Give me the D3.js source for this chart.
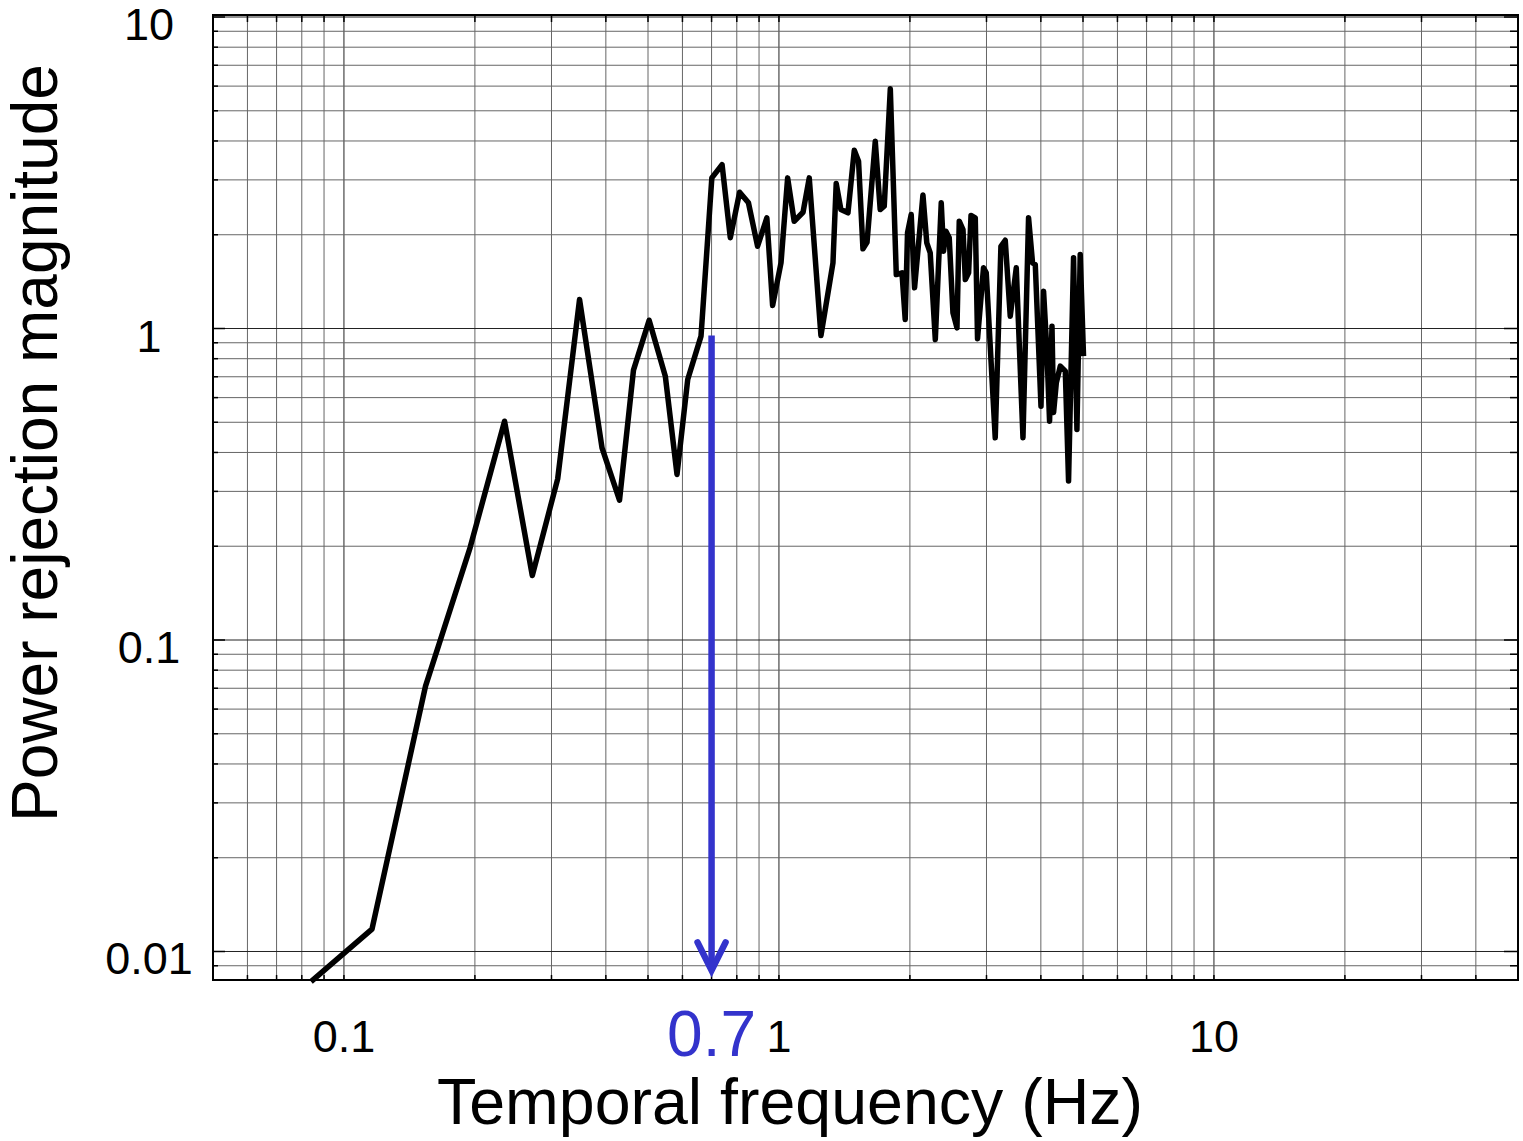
<!DOCTYPE html>
<html>
<head>
<meta charset="utf-8">
<script src="https://cdn.jsdelivr.net/npm/d3@7/dist/d3.min.js"></script>
<style>
  html, body { margin: 0; padding: 0; background: #fff; }
  svg { display: block; font-family: "Liberation Sans", Arial, sans-serif; }
</style>
</head>
<body>
<svg id="chart" width="1523" height="1141"></svg>
<script>
// Measured power rejection vs temporal frequency
const freqHz = [0.084, 0.116, 0.154, 0.195, 0.234, 0.271, 0.310, 0.348, 0.392, 0.430,
  0.463, 0.503, 0.548, 0.583, 0.617, 0.662, 0.701, 0.740, 0.773, 0.812,
  0.851, 0.893, 0.938, 0.967, 1.011, 1.047, 1.084, 1.136, 1.174, 1.249,
  1.331, 1.354, 1.388, 1.441, 1.490, 1.524, 1.560, 1.594, 1.665, 1.709,
  1.746, 1.803, 1.861, 1.918, 1.951, 1.975, 2.014, 2.050, 2.143, 2.187,
  2.227, 2.288, 2.361, 2.390, 2.420, 2.463, 2.512, 2.566, 2.597, 2.649,
  2.682, 2.729, 2.764, 2.827, 2.861, 2.953, 2.996, 3.142, 3.238, 3.313,
  3.402, 3.512, 3.639, 3.748, 3.828, 3.884, 4.003, 4.058, 4.132, 4.189,
  4.243, 4.279, 4.341, 4.434, 4.553, 4.632, 4.756, 4.842, 4.927, 5.014];
const rejection = [0.0080, 0.0118, 0.0711, 0.198, 0.504, 0.161, 0.329, 1.239, 0.414, 0.281,
  0.735, 1.063, 0.703, 0.340, 0.686, 0.945, 3.045, 3.36, 1.955, 2.738,
  2.532, 1.837, 2.266, 1.185, 1.625, 3.045, 2.21, 2.362, 3.045, 0.95,
  1.625, 2.92, 2.409, 2.351, 3.734, 3.443, 1.803, 1.892, 3.991, 2.409,
  2.469, 5.88, 1.49, 1.509, 1.069, 2.028, 2.322, 1.351, 2.682, 1.884,
  1.75, 0.922, 2.532, 1.771, 2.052, 1.955, 1.123, 1.005, 2.21, 2.078,
  1.436, 1.509, 2.305, 2.266, 0.927, 1.566, 1.509, 0.446, 1.837, 1.92,
  1.095, 1.566, 0.446, 2.266, 1.625, 1.605, 0.563, 1.317, 0.836, 0.504,
  1.017, 0.537, 0.669, 0.757, 0.729, 0.324, 1.686, 0.474, 1.728, 0.815];

// Axis extents and labels
const xDomain = [0.05, 50];
const yDomain = [0.0081, 10.15];
const xTickValues = [0.1, 1, 10];
const xTickLabels = ["0.1", "1", "10"];
const yTickValues = [10, 1, 0.1, 0.01];
const yTickLabels = ["10", "1", "0.1", "0.01"];

// Cut-off marker
const cutoffHz = 0.7;
const cutoffLabel = "0.7";
const arrowFrom = 0.95;
const arrowTo = 0.0087;

const xTitle = "Temporal frequency (Hz)";
const yTitle = "Power rejection magnitude";

const svg = d3.select("#chart");
const plotLeft = 213, plotRight = 1518, plotTop = 15, plotBottom = 980;

const x = d3.scaleLog().domain(xDomain).range([plotLeft, plotRight]);
const y = d3.scaleLog().domain(yDomain).range([plotBottom, plotTop]);

// 1-2-...-9 per decade grid values within a domain
function decadeValues(domain) {
  const out = [];
  for (let e = -3; e <= 2; e++) {
    for (let k = 1; k <= 9; k++) {
      const v = +(k * Math.pow(10, e)).toPrecision(6);
      if (v >= domain[0] * 0.9999 && v <= domain[1] * 1.0001) out.push({ v, major: k === 1 });
    }
  }
  return out;
}
const xGrid = decadeValues(xDomain);
const yGrid = decadeValues(yDomain);

const grid = svg.append("g").attr("class", "grid");
grid.selectAll("line.vx").data(xGrid).join("line")
  .attr("x1", d => x(d.v)).attr("x2", d => x(d.v))
  .attr("y1", plotTop).attr("y2", plotBottom)
  .attr("stroke", d => d.major ? "#222" : "#666")
  .attr("stroke-width", 1);
grid.selectAll("line.hy").data(yGrid).join("line")
  .attr("y1", d => y(d.v)).attr("y2", d => y(d.v))
  .attr("x1", plotLeft).attr("x2", plotRight)
  .attr("stroke", d => d.major ? "#222" : "#666")
  .attr("stroke-width", 1);

// Inner tick marks on all four sides
const ticks = svg.append("g").attr("stroke", "#000").attr("stroke-width", 1.5);
ticks.selectAll("line.tb").data(xGrid).join("line")
  .attr("x1", d => x(d.v)).attr("x2", d => x(d.v))
  .attr("y1", plotBottom).attr("y2", plotBottom - 5);
ticks.selectAll("line.tt").data(xGrid).join("line")
  .attr("x1", d => x(d.v)).attr("x2", d => x(d.v))
  .attr("y1", plotTop).attr("y2", plotTop + 7);
ticks.selectAll("line.tl").data(yGrid).join("line")
  .attr("y1", d => y(d.v)).attr("y2", d => y(d.v))
  .attr("x1", plotLeft).attr("x2", d => plotLeft + (d.major ? 12 : 5));
ticks.selectAll("line.tr").data(yGrid).join("line")
  .attr("y1", d => y(d.v)).attr("y2", d => y(d.v))
  .attr("x1", plotRight).attr("x2", d => plotRight - (d.major ? 14 : 8));

// Plot frame
svg.append("rect")
  .attr("x", plotLeft).attr("y", plotTop)
  .attr("width", plotRight - plotLeft).attr("height", plotBottom - plotTop)
  .attr("fill", "none").attr("stroke", "#000").attr("stroke-width", 2);

// Tick labels
svg.append("g").selectAll("text").data(xTickValues).join("text")
  .attr("x", d => x(d)).attr("y", 1052)
  .attr("text-anchor", "middle")
  .attr("font-size", 45).attr("fill", "#000")
  .text((d, i) => xTickLabels[i]);
svg.append("g").selectAll("text").data(yTickValues).join("text")
  .attr("x", 149).attr("y", d => y(d) + 23)
  .attr("text-anchor", "middle")
  .attr("font-size", 45).attr("fill", "#000")
  .text((d, i) => yTickLabels[i]);

// Axis titles
svg.append("text")
  .attr("x", 790).attr("y", 1124)
  .attr("text-anchor", "middle").attr("font-size", 64.5).attr("fill", "#000")
  .text(xTitle);
svg.append("text")
  .attr("transform", "translate(57,443) rotate(-90)")
  .attr("text-anchor", "middle").attr("font-size", 64).attr("fill", "#000")
  .text(yTitle);

// Rejection curve
const line = d3.line().x(d => x(d[0])).y(d => y(d[1]));
svg.append("path")
  .datum(d3.zip(freqHz, rejection))
  .attr("d", line)
  .attr("fill", "none").attr("stroke", "#000")
  .attr("stroke-width", 5.5).attr("stroke-linejoin", "round");

// Cut-off arrow
const blue = "#3333cc";
const ax = x(cutoffHz), ay0 = y(arrowFrom), ay1 = y(arrowTo);
const arrow = svg.append("g").attr("stroke", blue).attr("fill", "none").attr("stroke-width", 6.5);
arrow.append("line").attr("x1", ax).attr("x2", ax).attr("y1", ay0).attr("y2", ay1 - 2);
arrow.append("path")
  .attr("d", `M${ax - 14},${ay1 - 28} L${ax},${ay1} L${ax + 14},${ay1 - 28}`)
  .attr("stroke-linecap", "round").attr("stroke-linejoin", "miter");
svg.append("text")
  .attr("x", ax).attr("y", 1056)
  .attr("text-anchor", "middle").attr("font-size", 64).attr("fill", blue)
  .text(cutoffLabel);
</script>
</body>
</html>
